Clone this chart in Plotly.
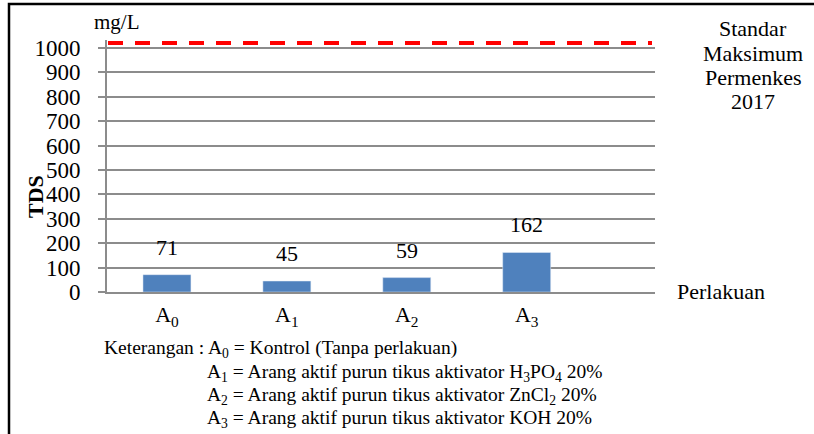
import plotly.graph_objects as go

categories = ["A<sub>0</sub>", "A<sub>1</sub>", "A<sub>2</sub>", "A<sub>3</sub>"]
tds_values = [71, 45, 59, 162]
standard_line = 1020
y_ticks = [0, 100, 200, 300, 400, 500, 600, 700, 800, 900, 1000]
legend_lines = [
    "Keterangan : A<sub>0</sub> = Kontrol (Tanpa perlakuan)",
    "A<sub>1</sub> = Arang aktif purun tikus aktivator H<sub>3</sub>PO<sub>4</sub> 20%",
    "A<sub>2</sub> = Arang aktif purun tikus aktivator ZnCl<sub>2</sub> 20%",
    "A<sub>3</sub> = Arang aktif purun tikus aktivator KOH 20%",
]
standard_lines = ["Standar", "Maksimum", "Permenkes", "2017"]

W, H = 814, 434
L, R, T, B = 107, 655, 40, 292
FONT = "Liberation Serif"
GRID = "#8c8c8c"


def px(x):
    return (x - L) / (R - L)


def py(y):
    return (B - y) / (B - T)


fig = go.Figure()
fig.add_trace(go.Bar(x=categories, y=tds_values, marker_color="#4F81BD",
                     width=0.4, hoverinfo="x+y"))

annotations = []
for c, v in zip(categories, tds_values):
    annotations.append(dict(x=c, y=v, text=str(v), showarrow=False, yanchor="bottom",
                            xanchor="center", yshift=13,
                            font=dict(family=FONT, size=22, color="black")))


def note(x, y, text, size, **kw):
    d = dict(xref="paper", yref="paper", x=px(x), y=py(y), text=text, showarrow=False,
             xanchor="center", yanchor="middle",
             font=dict(family=FONT, size=size, color="black"))
    d.update(kw)
    return d


annotations += [
    note(117, 22, "mg/L", 21),
    note(35, 197, "<b>TDS</b>", 22, textangle=-90),
    note(721, 291, "Perlakuan", 22),
]
for t, sy in zip(standard_lines, [29, 53, 77, 101]):
    annotations.append(note(753, sy, t, 22))

legend_x = [102, 205, 205, 205]
legend_y = [349, 373, 396, 419]
for t, lx, ly in zip(legend_lines, legend_x, legend_y):
    annotations.append(note(lx, ly, t, 19.5, xanchor="left"))

shapes = [
    dict(type="line", xref="paper", yref="y", x0=px(108), x1=px(652),
         y0=standard_line, y1=standard_line,
         line=dict(color="#FF0000", width=4, dash="15px,12px")),
    dict(type="rect", xref="paper", yref="paper", x0=px(9), x1=px(840), y0=py(4), y1=py(460),
         line=dict(color="black", width=2.5), fillcolor="rgba(0,0,0,0)"),
]

fig.update_layout(
    width=W, height=H,
    margin=dict(l=L, r=W - R, t=T, b=H - B, autoexpand=False),
    paper_bgcolor="white", plot_bgcolor="white",
    showlegend=False,
    bargap=0.6,
    annotations=annotations,
    shapes=shapes,
    font=dict(family=FONT, color="black"),
)
fig.update_xaxes(
    type="category", range=[-0.5, 4.07],
    showline=True, linecolor=GRID, linewidth=2,
    ticks="", showgrid=False,
    tickfont=dict(family=FONT, size=22, color="black"),
    ticklabelstandoff=2,
)
fig.update_yaxes(
    range=[0, (B - T) / ((B - 48) / 1000)],
    tickvals=y_ticks,
    showline=True, linecolor=GRID, linewidth=2,
    showgrid=True, gridcolor=GRID, gridwidth=2,
    zeroline=False,
    ticks="outside", ticklen=7, tickcolor=GRID, tickwidth=2,
    tickfont=dict(family=FONT, size=23, color="black"),
    ticklabelstandoff=13,
)

fig.write_html("out.html", config={"displayModeBar": False},
               post_script="document.body.style.margin='0';document.body.style.overflow='hidden';")
